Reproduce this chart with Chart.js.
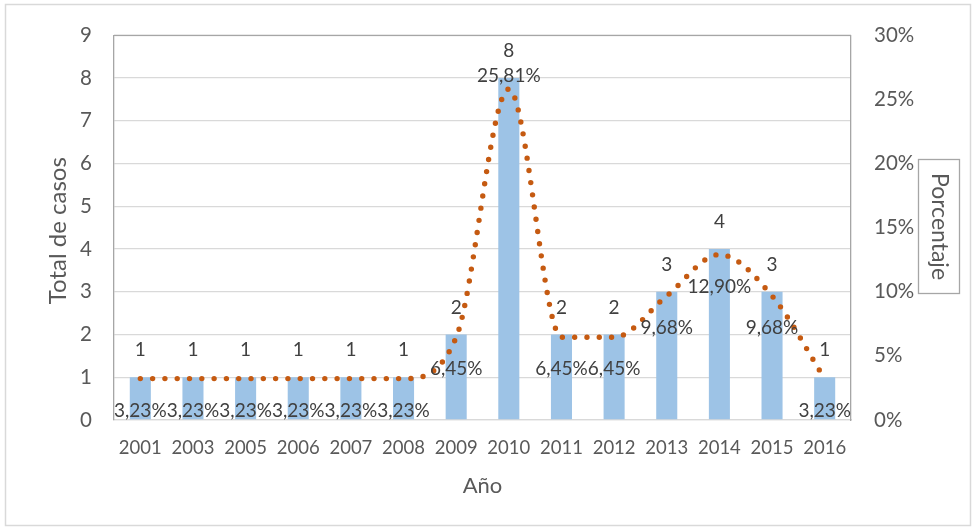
<!DOCTYPE html>
<html>
<head>
<meta charset="utf-8">
<script src="https://cdn.jsdelivr.net/npm/chart.js@4/dist/chart.umd.min.js"></script>
<style>
  html, body { margin: 0; padding: 0; background: #ffffff; }
  #wrap { width: 975px; height: 529px; position: relative; }
</style>
</head>
<body>
<div id="wrap"><canvas id="chart" width="975" height="529"></canvas></div>
<script>
// Casos por año y su porcentaje sobre el total
const years = ['2001', '2003', '2005', '2006', '2007', '2008', '2009', '2010', '2011', '2012', '2013', '2014', '2015', '2016'];
const cases = [1, 1, 1, 1, 1, 1, 2, 8, 2, 2, 3, 4, 3, 1];
const percent = [3.23, 3.23, 3.23, 3.23, 3.23, 3.23, 6.45, 25.81, 6.45, 6.45, 9.68, 12.90, 9.68, 3.23];

const FONT = 'Lato, "Open Sans", sans-serif';
const TEXT = '#595959';
const LABEL = '#404040';

const fmtPct = v => v.toFixed(2).replace('.', ',') + '%';

// Vertical distance of each value label from its mark (negative = above)
const COUNT_OFFSET = -27;
const pctOffset = i => (i === 7 ? -13 : 32);

const labelsPlugin = {
  id: 'valueLabels',
  afterDatasetsDraw(chart) {
    const ctx = chart.ctx;
    ctx.save();
    ctx.font = '19px ' + FONT;
    ctx.fillStyle = LABEL;
    ctx.textAlign = 'center';
    ctx.textBaseline = 'middle';
    const bars = chart.getDatasetMeta(0);
    bars.data.forEach((el, i) => {
      ctx.fillText(String(cases[i]), el.x, el.y + COUNT_OFFSET);
    });
    const line = chart.getDatasetMeta(1);
    line.data.forEach((el, i) => {
      ctx.fillText(fmtPct(percent[i]), el.x, el.y + pctOffset(i));
    });
    ctx.restore();
  }
};

const framePlugin = {
  id: 'frame',
  afterDraw(chart) {
    const ctx = chart.ctx;
    const a = chart.chartArea;
    ctx.save();
    // outer frame
    ctx.strokeStyle = '#d9d9d9';
    ctx.lineWidth = 1.5;
    ctx.strokeRect(5.5, 4.5, 965, 521);
    // top edge of the plot area
    ctx.strokeStyle = '#a6a6a6';
    ctx.lineWidth = 1.3;
    ctx.beginPath();
    ctx.moveTo(a.left, a.top);
    ctx.lineTo(a.right, a.top);
    ctx.stroke();

    ctx.fillStyle = TEXT;
    ctx.textAlign = 'center';
    ctx.textBaseline = 'middle';
    // left axis title
    ctx.font = '24px ' + FONT;
    ctx.save();
    ctx.translate(58, (a.top + a.bottom) / 2 + 3);
    ctx.rotate(-Math.PI / 2);
    ctx.fillText('Total de casos', 0, 0);
    ctx.restore();
    // bottom axis title
    ctx.font = '22px ' + FONT;
    ctx.fillText('Año', (a.left + a.right) / 2, 486);
    // right axis title in its box
    ctx.strokeStyle = '#a6a6a6';
    ctx.lineWidth = 1.3;
    ctx.strokeRect(918.5, 159.5, 41, 134);
    ctx.font = '23px ' + FONT;
    ctx.save();
    ctx.translate(939, 226.5);
    ctx.rotate(Math.PI / 2);
    ctx.fillText('Porcentaje', 0, 0);
    ctx.restore();
    ctx.restore();
  }
};

new Chart(document.getElementById('chart'), {
  data: {
    labels: years,
    datasets: [
      {
        type: 'bar',
        label: 'Total de casos',
        data: cases,
        backgroundColor: '#9dc3e6',
        barPercentage: 0.4,
        categoryPercentage: 1,
        yAxisID: 'y',
        order: 2
      },
      {
        type: 'line',
        label: 'Porcentaje',
        data: percent,
        borderColor: '#c55a11',
        borderWidth: 5.4,
        borderDash: [0, 12.3],
        borderCapStyle: 'round',
        pointRadius: 0,
        cubicInterpolationMode: 'monotone',
        fill: false,
        yAxisID: 'y1',
        order: 1
      }
    ]
  },
  options: {
    responsive: false,
    animation: false,
    devicePixelRatio: 1,
    layout: { padding: { top: 33, left: 0, right: 0, bottom: 0 } },
    plugins: {
      legend: { display: false },
      tooltip: { enabled: false },
      title: { display: false }
    },
    scales: {
      x: {
        grid: { display: false },
        border: { color: '#d9d9d9', width: 1.3 },
        ticks: { font: { family: FONT, size: 18.5 }, color: TEXT, padding: 9, maxRotation: 0, autoSkip: false },
        afterFit: s => { s.height = 109; }
      },
      y: {
        position: 'left',
        min: 0,
        max: 9,
        ticks: { stepSize: 1, font: { family: FONT, size: 20.5 }, color: TEXT, padding: 22 },
        grid: { color: '#d9d9d9', lineWidth: 1.3, drawTicks: false },
        border: { color: '#a6a6a6', width: 1.3 },
        afterFit: s => { s.width = 114; }
      },
      y1: {
        position: 'right',
        min: 0,
        max: 30,
        ticks: { stepSize: 5, font: { family: FONT, size: 20.5 }, color: TEXT, padding: 23, callback: v => v + '%' },
        grid: { drawOnChartArea: false, drawTicks: false },
        border: { color: '#a6a6a6', width: 1.3 },
        afterFit: s => { s.width = 124; }
      }
    }
  },
  plugins: [labelsPlugin, framePlugin]
});
</script>
</body>
</html>
